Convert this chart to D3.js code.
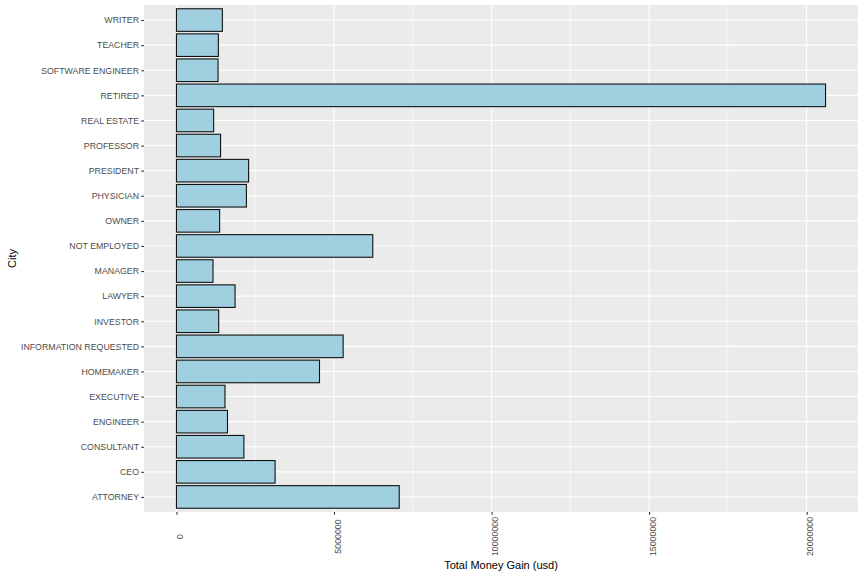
<!DOCTYPE html>
<html>
<head>
<meta charset="utf-8">
<script src="https://cdn.jsdelivr.net/npm/d3@7"></script>
<style>
  body { margin: 0; background: #fff; }
  svg text { font-family: "Liberation Sans", Arial, Helvetica, sans-serif; }
</style>
</head>
<body>
<div id="chart"></div>
<script>

// occupations, top to bottom as drawn
var occupations = ["WRITER", "TEACHER", "SOFTWARE ENGINEER", "RETIRED", "REAL ESTATE",
    "PROFESSOR", "PRESIDENT", "PHYSICIAN", "OWNER", "NOT EMPLOYED", "MANAGER", "LAWYER",
    "INVESTOR", "INFORMATION REQUESTED", "HOMEMAKER", "EXECUTIVE", "ENGINEER",
    "CONSULTANT", "CEO", "ATTORNEY"];

// total money (usd), same order
var totals = [1457000, 1330000, 1320000, 20600000, 1180000,
    1400000, 2290000, 2220000, 1370000, 6230000, 1160000, 1860000,
    1340000, 5290000, 4540000, 1540000, 1620000,
    2140000, 3130000, 7070000];

var xTicks = [0, 5000000, 10000000, 15000000, 20000000];
var xMinor = [2500000, 7500000, 12500000, 17500000];

var data = occupations.map(function(d, i) { return {job: d, total: totals[i]}; });

var W = 864, H = 576;
var margin = {top: 5, right: 6, bottom: 64, left: 144};
var width = W - margin.left - margin.right,
    height = H - margin.top - margin.bottom;

var svg = d3.select("#chart").append("svg")
    .attr("width", W)
    .attr("height", H);

var g = svg.append("g")
    .attr("transform", "translate(" + margin.left + "," + margin.top + ")");

// ggplot style expansion: 5% on continuous, 0.6 units on discrete
var maxV = d3.max(totals);
var x = d3.scaleLinear()
    .domain([-0.05 * maxV, 1.05 * maxV])
    .range([0, width]);

var step = height / (occupations.length - 1 + 1.2);
var y = d3.scalePoint()
    .domain(occupations)
    .range([0.6 * step, height - 0.6 * step]);
var barH = 0.9 * step;

// panel
g.append("rect")
    .attr("width", width)
    .attr("height", height)
    .attr("fill", "#EBEBEB");

// grid
g.selectAll(".minor").data(xMinor).enter().append("line")
    .attr("x1", function(d) { return x(d); })
    .attr("x2", function(d) { return x(d); })
    .attr("y1", 0).attr("y2", height)
    .attr("stroke", "#fff").attr("stroke-width", 0.55);

g.selectAll(".vmajor").data(xTicks).enter().append("line")
    .attr("x1", function(d) { return x(d); })
    .attr("x2", function(d) { return x(d); })
    .attr("y1", 0).attr("y2", height)
    .attr("stroke", "#fff").attr("stroke-width", 1.1);

g.selectAll(".hmajor").data(occupations).enter().append("line")
    .attr("x1", 0).attr("x2", width)
    .attr("y1", function(d) { return y(d); })
    .attr("y2", function(d) { return y(d); })
    .attr("stroke", "#fff").attr("stroke-width", 1.1);

// bars
g.selectAll(".bar").data(data).enter().append("rect")
    .attr("class", "bar")
    .attr("x", x(0))
    .attr("y", function(d) { return y(d.job) - barH / 2; })
    .attr("width", function(d) { return x(d.total) - x(0); })
    .attr("height", barH)
    .attr("fill", "#A0CFE0")
    .attr("stroke", "#111")
    .attr("stroke-width", 1.1);

// y axis
var yAxis = d3.axisLeft(y).tickSize(2.75).tickPadding(2.2);
var yg = g.append("g").call(yAxis);
yg.select(".domain").remove();
yg.selectAll(".tick line").attr("stroke", "#333").attr("stroke-width", 1.1);
yg.selectAll(".tick text")
    .attr("fill", "#4D4D4D")
    .style("font-size", "8.8px");

// x axis, labels turned 90 degrees
var xAxis = d3.axisBottom(x).tickValues(xTicks).tickSize(2.75).tickFormat(d3.format("d"));
var xg = g.append("g")
    .attr("transform", "translate(0," + height + ")")
    .call(xAxis);
xg.select(".domain").remove();
xg.selectAll(".tick line").attr("stroke", "#333").attr("stroke-width", 1.1);
xg.selectAll(".tick text")
    .attr("fill", "#4D4D4D")
    .style("font-size", "8.8px")
    .attr("text-anchor", "middle")
    .attr("y", 0)
    .attr("dy", "0.72em")
    .attr("transform", "translate(0,24.5) rotate(-90)");

// axis titles
svg.append("text")
    .attr("x", margin.left + width / 2)
    .attr("y", 569)
    .attr("text-anchor", "middle")
    .style("font-size", "11px")
    .attr("fill", "#000")
    .text("Total Money Gain (usd)");

svg.append("text")
    .attr("transform", "translate(16," + (margin.top + height / 2) + ") rotate(-90)")
    .attr("text-anchor", "middle")
    .style("font-size", "11px")
    .attr("fill", "#000")
    .text("City");

</script>
</body>
</html>
